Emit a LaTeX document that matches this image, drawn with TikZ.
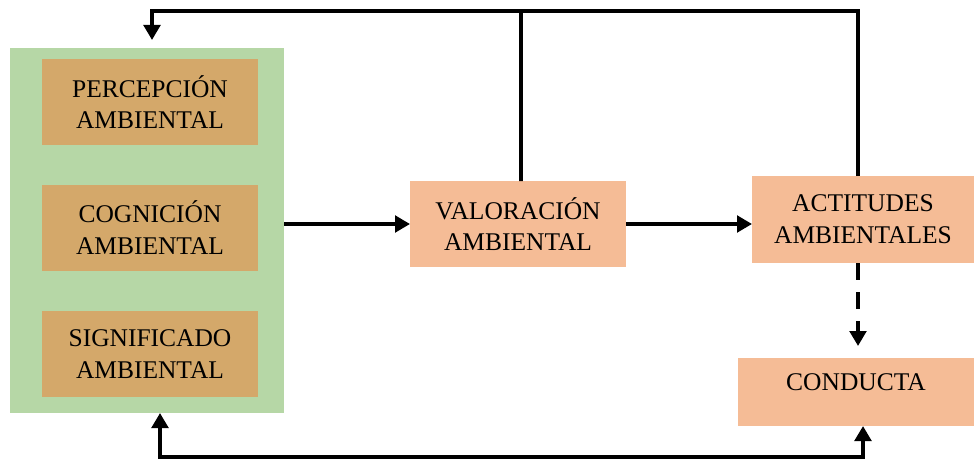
\documentclass[tikz,border=0pt]{standalone}
\usepackage{fontspec}
\setmainfont{Liberation Serif}
\usetikzlibrary{arrows.meta, positioning}
\definecolor{panelgreen}{RGB}{182,215,166}
\definecolor{boxtan}{RGB}{212,168,106}
\definecolor{boxsalmon}{RGB}{245,188,150}

\begin{document}
\begin{tikzpicture}[
 panel/.style = {fill=panelgreen, minimum width=5.48cm, minimum height=7.3cm,
                 inner sep=0pt, outer sep=0pt, node contents={}},
   box/.style = {fill=#1, font=\fontsize{14.5}{18}\selectfont,
                 align=center, inner sep=0pt, outer sep=0pt,
                 minimum width=4.32cm, minimum height=1.72cm},
   box/.default = boxsalmon,
  line/.style = {line width=2.2pt},
   arr/.style = {line, -{Triangle[length=3mm,width=3.3mm]}},
  darr/.style = {line, {Triangle[length=3mm,width=3.3mm]}-{Triangle[length=3mm,width=3.3mm]}}
                        ]
\useasboundingbox (0,0) rectangle (19.48,9.2);
    % blocks (boxes)
\node (grn) at (2.94,4.59) [panel];
\node (perc) at (3.0,7.16) [box=boxtan] {PERCEPCIÓN\\AMBIENTAL};
\node (cogn) at (3.0,4.65) [box=boxtan] {COGNICIÓN\\AMBIENTAL};
\node (sign) at (3.0,2.12) [box=boxtan] {SIGNIFICADO\\AMBIENTAL};
\node (val)  at (10.36,4.72) [box] {VALORACIÓN\\AMBIENTAL};
\node (act)  at (17.26,4.81) [box, minimum width=4.44cm, minimum height=1.74cm]
                                   {ACTITUDES\\AMBIENTALES};
\node (cond) at (17.12,1.36) [box, minimum width=4.72cm, minimum height=1.36cm,
                              text depth=0.4cm] {CONDUCTA};
\coordinate (top) at (10.42,8.98);
\coordinate (bot) at (10.00,0.06);
    % arrows
\draw[arr] (grn.east |- val.west) -- (val.west);
\draw[arr] (val.east) -- (val.east -| act.west);
\draw[arr, dash pattern=on 3.4mm off 2.4mm, shorten >=2.4mm]
    ([xshift=-1mm]act.south) -- ([xshift=-1mm]act.south |- cond.north);
    % feedback
\draw[line] ([xshift=0.6mm]val.north) -- (top);
\draw[arr, shorten >=1.6mm]
    ([xshift=-1mm]act.north) |- (top) -| ([xshift=1mm]grn.north);
\draw[darr]
    ([xshift=2.6mm]grn.south) |- (bot) -| ([xshift=1.4mm]cond.south);
\end{tikzpicture}
\end{document}
